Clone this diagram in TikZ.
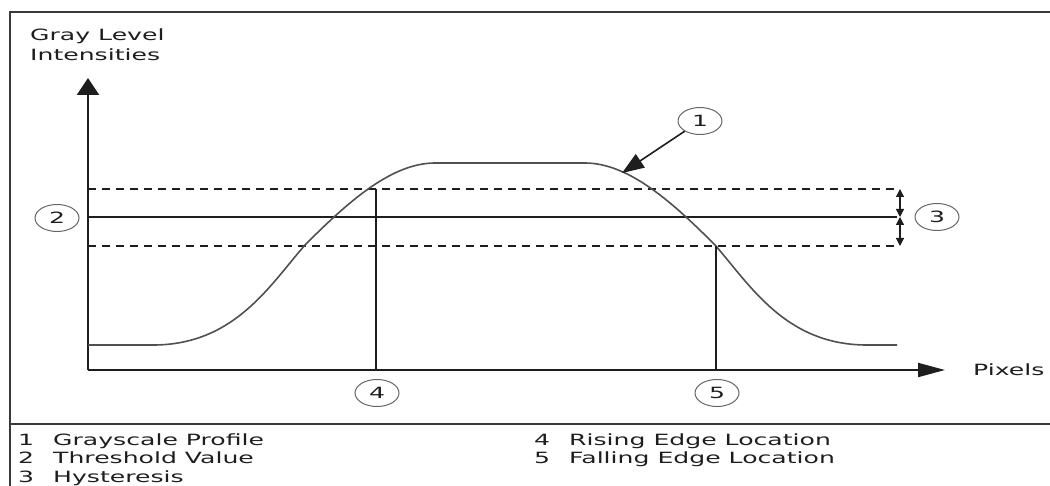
\documentclass[tikz,border=0pt]{standalone}
\usepackage{fontspec}
\setmainfont[FakeStretch=1.62]{DejaVu Sans}
\usetikzlibrary{arrows.meta,shapes.geometric}
\definecolor{ink}{HTML}{1E1E1E}
\definecolor{frame}{HTML}{3A3A3A}
\definecolor{curvec}{HTML}{505050}
\tikzset{
  lbl/.style={font=\fontsize{15.5}{18}\selectfont, text=ink, inner sep=0pt},
  numc/.style={ellipse, draw=gray!80!black, line width=1pt, minimum width=44pt, minimum height=27pt, inner sep=0pt, font=\fontsize{15.5}{18}\selectfont, text=ink},
  framel/.style={draw=frame, line width=2pt},
  axis/.style={draw=ink, line width=2pt},
  vline/.style={draw=ink, line width=1.6pt},
  thr/.style={draw=ink, line width=1.2pt},
  dashl/.style={draw=ink, line width=1.2pt, dash pattern=on 8pt off 6pt},
  prof/.style={draw=curvec, line width=1.6pt},
  ptr/.style={draw=ink, line width=1.6pt, -{Triangle[length=22pt,width=16pt]}},
  hyst/.style={draw=ink, line width=1.2pt, {Triangle[length=8pt,width=8pt]}-{Triangle[length=8pt,width=8pt]}}
}
\begin{document}
\begin{tikzpicture}[x=1pt,y=-1pt]
\useasboundingbox (0,0) rectangle (1050,486);
% frame
\draw[framel] (1050,12) -- (10,12) -- (10,486);
\draw[framel] (10,424) -- (1050,424);
% axes
\coordinate (O) at (88,370);
\coordinate (ytip) at (88,78);
\coordinate (xtip) at (945,370);
\draw[axis,-{Triangle[length=17pt,width=22pt]}] (O) -- (ytip);
\draw[axis,-{Triangle[length=27pt,width=14pt]}] (O) -- (xtip);
\node[lbl,anchor=base west] (ylab1) at (30,41) {Gray Level};
\node[lbl,anchor=base west] (ylab2) at (30,61) {Intensities};
\node[lbl,anchor=base west] (xlab) at (973,375) {Pixels};
% threshold and hysteresis lines
\coordinate (ul) at (88,189); \coordinate (ur) at (897,189);
\coordinate (ml) at (88,217); \coordinate (mr) at (897,217);
\coordinate (ll) at (88,246); \coordinate (lr) at (897,246);
\draw[dashl] (ul) -- (ur);
\draw[thr] (ml) -- (mr);
\draw[dashl] (ll) -- (lr);
% profile
\draw[prof] (88,345) -- (155,345)
  .. controls (235,344) and (270,285) .. (305,245)
  .. controls (345,205) and (390,163) .. (435,163)
  -- (585,163)
  .. controls (630,163) and (675,205) .. (715,245)
  .. controls (750,285) and (785,344) .. (865,345)
  -- (897,345);
% edge locations
\coordinate (rise) at (376,189); \coordinate (riseb) at (376,370);
\coordinate (fall) at (716,246); \coordinate (fallb) at (716,370);
\draw[vline] (rise) -- (riseb);
\draw[vline] (fall) -- (fallb);
% hysteresis arrows
\coordinate (hu) at (900,189); \coordinate (hm) at (900,217); \coordinate (hl) at (900,246);
\draw[hyst] (hu) -- (hm);
\draw[hyst] (hm) -- (hl);
% callouts
\node[numc] (c1) at (700,121) {1};
\node[numc] (c2) at (57,218) {2};
\node[numc] (c3) at (937,217) {3};
\node[numc] (c4) at (377,393) {4};
\node[numc] (c5) at (717,393) {5};
\coordinate (tip) at (622,173);
\draw[ptr] (c1) -- (tip);
% legend
\node[lbl,anchor=base west] (n1) at (18,445) {1};
\node[lbl,anchor=base west] (t1) at (53,445) {Grayscale Profile};
\node[lbl,anchor=base west] (n2) at (18,463) {2};
\node[lbl,anchor=base west] (t2) at (53,463) {Threshold Value};
\node[lbl,anchor=base west] (n3) at (18,482) {3};
\node[lbl,anchor=base west] (t3) at (53,482) {Hysteresis};
\node[lbl,anchor=base west] (n4) at (534,445) {4};
\node[lbl,anchor=base west] (t4) at (569,445) {Rising Edge Location};
\node[lbl,anchor=base west] (n5) at (534,463) {5};
\node[lbl,anchor=base west] (t5) at (569,463) {Falling Edge Location};
\end{tikzpicture}
\end{document}
